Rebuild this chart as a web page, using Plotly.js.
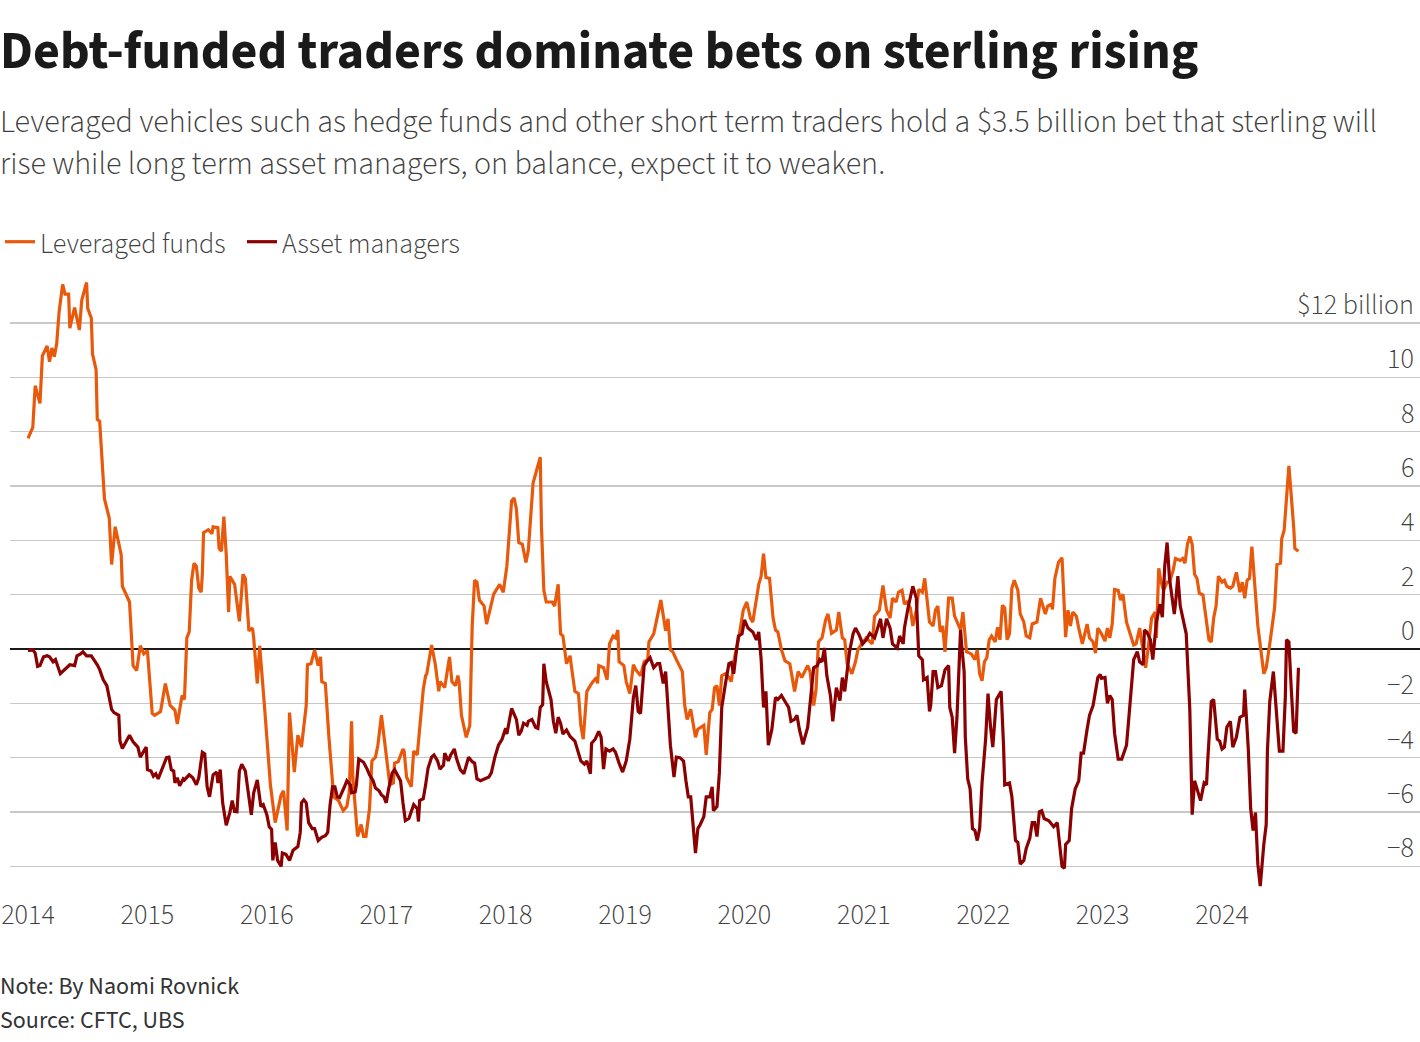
<!DOCTYPE html>
<html>
<head>
<meta charset="utf-8">
<script src="https://cdn.plot.ly/plotly-3.0.1.min.js"></script>
<style>
html,body{margin:0;padding:0;background:#fff;}
#chart{width:1420px;height:1042px;}
</style>
</head>
<body>
<div id="chart"></div>
<script>
// Leveraged funds: decimal year, $ billion
const levX = [2014.00,2014.04,2014.06,2014.10,2014.12,2014.16,2014.18,2014.20,2014.22,2014.24,2014.26,2014.29,2014.31,2014.34,2014.35,2014.39,2014.43,2014.45,2014.49,2014.50,2014.53,2014.54,2014.57,2014.58,2014.60,2014.64,2014.68,2014.70,2014.73,2014.78,2014.79,2014.85,2014.88,2014.91,2014.94,2014.97,2015.00,2015.04,2015.06,2015.11,2015.15,2015.19,2015.23,2015.25,2015.29,2015.31,2015.33,2015.35,2015.37,2015.39,2015.41,2015.43,2015.45,2015.46,2015.47,2015.51,2015.54,2015.55,2015.59,2015.60,2015.62,2015.64,2015.66,2015.68,2015.69,2015.73,2015.77,2015.80,2015.82,2015.85,2015.88,2015.89,2015.92,2015.94,2015.98,2016.03,2016.07,2016.12,2016.14,2016.17,2016.19,2016.23,2016.26,2016.29,2016.33,2016.34,2016.37,2016.40,2016.43,2016.45,2016.46,2016.49,2016.52,2016.56,2016.60,2016.64,2016.67,2016.69,2016.71,2016.72,2016.76,2016.79,2016.81,2016.83,2016.86,2016.88,2016.91,2016.93,2016.96,2017.00,2017.03,2017.06,2017.07,2017.10,2017.14,2017.15,2017.17,2017.21,2017.23,2017.26,2017.28,2017.31,2017.33,2017.34,2017.38,2017.41,2017.44,2017.45,2017.49,2017.53,2017.55,2017.58,2017.60,2017.61,2017.63,2017.67,2017.70,2017.72,2017.74,2017.76,2017.78,2017.82,2017.84,2017.87,2017.90,2017.95,2017.98,2018.01,2018.05,2018.07,2018.09,2018.11,2018.14,2018.17,2018.19,2018.23,2018.26,2018.29,2018.30,2018.32,2018.34,2018.39,2018.41,2018.44,2018.46,2018.48,2018.51,2018.54,2018.55,2018.58,2018.61,2018.63,2018.65,2018.68,2018.72,2018.76,2018.77,2018.78,2018.82,2018.85,2018.87,2018.90,2018.92,2018.94,2018.95,2018.99,2019.01,2019.04,2019.07,2019.09,2019.13,2019.16,2019.19,2019.20,2019.24,2019.27,2019.30,2019.34,2019.36,2019.38,2019.40,2019.43,2019.48,2019.50,2019.52,2019.55,2019.59,2019.61,2019.66,2019.68,2019.71,2019.73,2019.75,2019.77,2019.79,2019.81,2019.84,2019.87,2019.89,2019.92,2019.95,2019.99,2020.02,2020.05,2020.07,2020.12,2020.14,2020.16,2020.18,2020.21,2020.24,2020.26,2020.28,2020.31,2020.34,2020.38,2020.42,2020.45,2020.48,2020.53,2020.55,2020.58,2020.60,2020.62,2020.65,2020.68,2020.70,2020.73,2020.77,2020.79,2020.82,2020.84,2020.86,2020.90,2020.93,2020.95,2020.98,2021.02,2021.07,2021.09,2021.13,2021.16,2021.19,2021.22,2021.24,2021.27,2021.29,2021.32,2021.34,2021.36,2021.39,2021.41,2021.44,2021.46,2021.49,2021.51,2021.53,2021.55,2021.58,2021.60,2021.62,2021.64,2021.66,2021.68,2021.71,2021.74,2021.76,2021.78,2021.81,2021.83,2021.86,2021.90,2021.93,2021.95,2021.97,2021.99,2022.01,2022.03,2022.05,2022.07,2022.10,2022.12,2022.14,2022.16,2022.18,2022.20,2022.22,2022.24,2022.26,2022.29,2022.31,2022.34,2022.36,2022.39,2022.41,2022.45,2022.48,2022.52,2022.54,2022.57,2022.58,2022.60,2022.63,2022.66,2022.68,2022.69,2022.71,2022.73,2022.75,2022.78,2022.80,2022.83,2022.87,2022.89,2022.92,2022.94,2022.96,2022.99,2023.02,2023.04,2023.06,2023.08,2023.10,2023.13,2023.15,2023.17,2023.20,2023.23,2023.26,2023.28,2023.31,2023.34,2023.36,2023.38,2023.41,2023.44,2023.45,2023.47,2023.49,2023.51,2023.54,2023.56,2023.59,2023.61,2023.65,2023.67,2023.69,2023.71,2023.73,2023.75,2023.77,2023.79,2023.81,2023.84,2023.87,2023.89,2023.91,2023.93,2023.95,2023.97,2024.00,2024.02,2024.04,2024.07,2024.09,2024.12,2024.15,2024.17,2024.19,2024.21,2024.23,2024.25,2024.28,2024.30,2024.35,2024.37,2024.40,2024.44,2024.46,2024.49,2024.50,2024.52,2024.56,2024.58,2024.60,2024.61,2024.64];
const levY = [7.75,8.16,9.69,9.04,10.79,11.15,10.57,11.08,10.76,11.23,12.4,13.42,13.06,13.06,11.81,12.57,11.74,12.84,13.49,12.54,12.18,10.86,10.28,8.45,8.38,5.53,4.82,3.11,4.5,3.48,2.31,1.73,-0.61,-0.79,0.12,-0.18,-0.06,-2.37,-2.44,-2.3,-1.27,-2.08,-2.25,-2.76,-1.71,-1.86,0.41,0.63,2.53,3.16,3.04,2.24,2.09,2.75,4.28,4.39,4.24,4.5,4.47,3.7,3.6,4.87,3.48,1.36,2.68,2.38,1.02,2.75,2.6,0.67,0.77,0.41,-1.27,0.12,-2.08,-5.0,-6.39,-5.37,-5.22,-6.68,-2.34,-4.53,-3.17,-3.61,-2.08,-0.58,-0.54,-0.03,-0.61,-0.29,-1.2,-1.27,-3.25,-5.44,-5.58,-5.95,-5.8,-5.29,-2.66,-4.71,-6.9,-6.46,-6.9,-6.9,-5.88,-4.12,-3.98,-3.54,-2.44,-3.83,-5.0,-4.93,-4.2,-4.15,-3.68,-3.76,-4.71,-5.07,-3.76,-3.9,-2.81,-1.49,-0.98,-0.91,0.15,-0.54,-1.56,-1.2,-1.42,-0.29,-1.2,-1.35,-0.98,-1.2,-2.44,-3.25,-2.81,0.85,2.53,2.46,1.8,1.58,0.92,1.51,2.02,2.38,2.09,3.04,5.45,5.56,5.16,3.92,3.85,3.19,3.63,6.11,6.62,7.06,4.5,2.16,1.73,1.73,1.58,2.38,0.56,0.48,-0.54,-0.25,-0.61,-1.56,-1.64,-2.81,-3.32,-1.56,-1.27,-1.05,-1.27,-0.61,-0.69,-1.13,0.19,0.48,0.41,0.7,-0.47,-0.61,-1.2,-1.64,-0.58,-0.76,-0.98,-0.47,-0.39,0.26,0.56,1.14,1.8,0.67,1.11,-0.03,-0.1,-0.39,-0.83,-2.08,-2.59,-2.22,-3.25,-2.95,-2.81,-3.9,-2.34,-2.22,-1.42,-1.35,-2.08,-0.98,-0.91,-1.05,-1.2,-0.25,0.34,1.43,1.73,1.14,0.99,2.38,2.68,3.51,2.63,2.6,1.14,0.7,0.63,-0.03,-0.44,-0.54,-1.56,-0.83,-1.05,-0.61,-0.83,-2.08,-1.49,0.26,0.41,1.07,1.29,0.58,0.7,1.36,0.41,0.34,-0.54,-0.91,-0.47,-0.03,0.19,0.41,0.19,1.21,1.43,2.34,1.43,1.14,1.87,1.73,2.09,2.16,1.65,1.73,1.51,0.85,1.43,2.19,2.09,2.6,1.73,0.99,0.85,1.43,1.58,0.63,0.85,-0.1,1.87,1.87,1.21,0.99,0.7,1.36,-0.1,-0.18,-0.39,-0.03,-0.91,-1.17,-0.47,-0.32,0.34,0.48,0.26,0.8,0.34,1.61,1.51,0.34,0.56,2.24,2.53,2.16,1.29,0.99,0.48,0.41,0.92,0.99,1.87,1.29,1.58,1.65,1.46,2.6,3.19,3.36,1.43,0.44,1.43,0.85,1.36,1.21,0.77,0.19,0.92,0.41,0.26,-0.15,0.77,0.56,0.29,0.77,0.41,0.92,2.19,2.16,1.8,2.02,0.99,0.56,0.15,0.19,0.77,-0.1,-0.69,-0.03,1.14,1.36,0.41,2.97,2.46,2.16,2.46,2.46,2.89,3.33,3.26,3.33,3.16,3.85,4.14,3.85,2.75,2.6,2.05,1.99,1.07,0.34,0.26,1.14,1.58,2.68,2.46,2.53,2.31,2.24,2.31,2.82,2.09,2.46,1.87,2.53,2.6,3.77,2.02,0.85,-0.91,-0.69,0.19,1.51,3.11,3.16,4.06,4.36,6.74,5.67,4.5,3.7,3.6];

// Asset managers: decimal year, $ billion
const amX = [2014.00,2014.04,2014.06,2014.08,2014.10,2014.13,2014.16,2014.18,2014.21,2014.23,2014.27,2014.31,2014.35,2014.39,2014.41,2014.44,2014.46,2014.49,2014.53,2014.58,2014.60,2014.63,2014.66,2014.70,2014.72,2014.76,2014.77,2014.79,2014.82,2014.85,2014.88,2014.92,2014.94,2014.97,2014.99,2015.00,2015.03,2015.05,2015.07,2015.09,2015.13,2015.16,2015.18,2015.20,2015.22,2015.23,2015.25,2015.27,2015.30,2015.31,2015.35,2015.38,2015.41,2015.43,2015.46,2015.48,2015.50,2015.52,2015.55,2015.58,2015.59,2015.61,2015.63,2015.66,2015.69,2015.71,2015.73,2015.75,2015.77,2015.79,2015.82,2015.83,2015.87,2015.89,2015.92,2015.95,2015.97,2016.00,2016.02,2016.04,2016.05,2016.07,2016.09,2016.12,2016.13,2016.16,2016.19,2016.22,2016.26,2016.28,2016.29,2016.31,2016.33,2016.35,2016.38,2016.40,2016.43,2016.46,2016.49,2016.51,2016.53,2016.55,2016.57,2016.59,2016.61,2016.65,2016.67,2016.70,2016.71,2016.74,2016.75,2016.77,2016.81,2016.84,2016.86,2016.89,2016.91,2016.94,2016.96,2016.98,2017.00,2017.02,2017.05,2017.07,2017.09,2017.12,2017.14,2017.16,2017.19,2017.23,2017.26,2017.27,2017.28,2017.31,2017.33,2017.35,2017.38,2017.40,2017.43,2017.45,2017.48,2017.49,2017.52,2017.54,2017.57,2017.59,2017.62,2017.65,2017.69,2017.72,2017.74,2017.76,2017.79,2017.83,2017.86,2017.88,2017.91,2017.94,2017.97,2018.00,2018.01,2018.05,2018.09,2018.11,2018.13,2018.15,2018.18,2018.19,2018.22,2018.25,2018.27,2018.29,2018.31,2018.32,2018.34,2018.38,2018.40,2018.42,2018.44,2018.46,2018.48,2018.51,2018.54,2018.58,2018.61,2018.63,2018.66,2018.68,2018.71,2018.72,2018.75,2018.78,2018.80,2018.82,2018.84,2018.87,2018.90,2018.92,2018.95,2018.98,2019.01,2019.04,2019.07,2019.09,2019.11,2019.13,2019.16,2019.18,2019.21,2019.24,2019.27,2019.29,2019.32,2019.34,2019.35,2019.38,2019.41,2019.43,2019.46,2019.49,2019.51,2019.53,2019.55,2019.57,2019.59,2019.61,2019.63,2019.66,2019.68,2019.71,2019.73,2019.74,2019.77,2019.79,2019.81,2019.84,2019.87,2019.89,2019.91,2019.94,2019.95,2019.98,2020.00,2020.03,2020.07,2020.10,2020.12,2020.14,2020.16,2020.18,2020.20,2020.23,2020.26,2020.28,2020.31,2020.34,2020.37,2020.39,2020.42,2020.44,2020.46,2020.49,2020.53,2020.56,2020.58,2020.61,2020.63,2020.65,2020.67,2020.69,2020.72,2020.74,2020.77,2020.80,2020.82,2020.84,2020.86,2020.88,2020.91,2020.93,2020.96,2020.99,2021.02,2021.05,2021.09,2021.11,2021.14,2021.16,2021.19,2021.22,2021.24,2021.28,2021.30,2021.33,2021.34,2021.37,2021.41,2021.44,2021.46,2021.49,2021.50,2021.53,2021.55,2021.56,2021.58,2021.60,2021.62,2021.65,2021.68,2021.71,2021.72,2021.74,2021.76,2021.78,2021.81,2021.82,2021.84,2021.85,2021.87,2021.89,2021.91,2021.93,2021.95,2021.97,2021.99,2022.02,2022.04,2022.06,2022.08,2022.11,2022.15,2022.17,2022.18,2022.22,2022.24,2022.27,2022.29,2022.31,2022.34,2022.36,2022.39,2022.41,2022.43,2022.45,2022.47,2022.49,2022.51,2022.55,2022.59,2022.62,2022.64,2022.66,2022.68,2022.69,2022.72,2022.74,2022.77,2022.80,2022.82,2022.84,2022.87,2022.89,2022.92,2022.96,2022.98,2022.99,2023.02,2023.04,2023.06,2023.08,2023.10,2023.13,2023.16,2023.20,2023.22,2023.24,2023.26,2023.29,2023.31,2023.34,2023.35,2023.37,2023.40,2023.42,2023.45,2023.48,2023.50,2023.52,2023.54,2023.56,2023.60,2023.61,2023.63,2023.65,2023.68,2023.70,2023.73,2023.75,2023.77,2023.80,2023.82,2023.85,2023.87,2023.88,2023.91,2023.93,2023.96,2023.98,2024.00,2024.02,2024.04,2024.07,2024.09,2024.12,2024.15,2024.18,2024.19,2024.22,2024.24,2024.26,2024.28,2024.30,2024.32,2024.35,2024.37,2024.38,2024.40,2024.43,2024.45,2024.48,2024.51,2024.53,2024.54,2024.56,2024.58,2024.60,2024.62,2024.64];
const amY = [-0.06,-0.03,-0.15,-0.64,-0.61,-0.29,-0.25,-0.29,-0.47,-0.39,-0.91,-0.73,-0.58,-0.61,-0.25,-0.18,-0.1,-0.25,-0.25,-0.58,-0.76,-1.13,-1.35,-2.22,-2.34,-2.44,-3.39,-3.66,-3.39,-3.17,-3.42,-3.61,-3.98,-3.76,-3.61,-4.44,-4.49,-4.68,-4.59,-4.78,-4.34,-4.0,-3.98,-4.44,-4.49,-4.93,-4.74,-5.03,-4.78,-4.82,-4.63,-4.74,-5.0,-4.74,-3.8,-3.86,-5.07,-5.44,-4.63,-4.53,-4.93,-4.44,-5.66,-6.49,-6.02,-5.58,-5.98,-5.99,-4.49,-4.24,-4.49,-4.85,-6.1,-5.29,-4.82,-5.8,-5.73,-6.1,-6.54,-6.64,-7.78,-7.12,-7.78,-8.0,-7.51,-7.56,-7.78,-7.41,-7.27,-6.75,-5.66,-5.55,-5.66,-6.39,-6.61,-6.61,-7.05,-6.93,-6.87,-6.75,-5.73,-5.07,-5.07,-5.44,-5.47,-5.07,-4.85,-5.0,-5.29,-5.26,-5.0,-4.05,-4.17,-4.42,-4.63,-4.85,-5.12,-5.22,-5.37,-5.44,-5.66,-5.15,-4.56,-4.44,-4.63,-4.85,-5.66,-6.32,-6.24,-5.73,-5.88,-6.35,-5.58,-5.51,-5.0,-4.39,-3.98,-3.9,-4.12,-4.42,-4.27,-3.83,-4.12,-3.9,-3.68,-4.05,-4.44,-4.59,-3.98,-4.15,-4.2,-4.78,-4.85,-4.78,-4.71,-4.56,-3.98,-3.54,-3.32,-2.92,-3.13,-2.19,-2.59,-3.17,-3.03,-2.73,-2.81,-2.66,-2.59,-2.88,-2.92,-2.15,-2.05,-0.54,-1.2,-1.86,-2.66,-3.1,-2.51,-2.73,-3.13,-2.98,-3.22,-3.39,-3.8,-4.12,-4.24,-4.12,-4.59,-3.47,-3.32,-3.03,-3.25,-4.42,-3.68,-3.76,-3.68,-3.8,-4.2,-4.53,-4.12,-3.32,-1.78,-1.35,-2.3,-2.37,-0.61,-0.47,-0.32,-0.69,-0.54,-0.54,-1.27,-0.83,-1.49,-3.54,-4.71,-3.98,-4.0,-4.12,-4.85,-5.44,-5.44,-6.46,-7.51,-6.61,-6.46,-6.17,-5.44,-5.44,-5.07,-5.95,-5.8,-4.56,-2.15,-1.3,-0.54,-0.5,-0.91,0.19,0.48,0.56,1.07,0.77,0.63,0.34,0.63,-0.39,-2.15,-1.56,-3.54,-2.95,-1.78,-1.86,-1.71,-1.93,-2.15,-2.66,-2.59,-2.44,-2.95,-3.51,-2.88,-1.56,-0.69,-0.61,-0.39,-0.47,0.04,-0.98,-1.71,-2.66,-1.42,-1.9,-1.05,-1.56,-0.76,-0.1,0.56,0.77,0.53,0.19,0.34,0.58,0.41,0.7,1.11,0.41,1.11,0.77,0.19,0.04,0.48,0.19,0.77,1.51,2.31,1.87,-0.25,-0.39,-1.13,-1.05,-2.3,-2.08,-0.83,-0.83,-1.42,-1.35,-0.76,-0.61,-2.15,-2.51,-3.83,-2.51,0.7,0.12,-0.83,-3.25,-4.78,-5.15,-6.61,-6.68,-7.05,-6.61,-4.93,-3.32,-1.64,-2.81,-3.61,-1.86,-1.56,-3.54,-5.0,-4.93,-5.44,-7.05,-7.12,-7.92,-7.78,-7.34,-6.97,-6.39,-6.39,-6.9,-5.99,-5.95,-6.24,-6.32,-6.54,-6.39,-7.34,-8.0,-8.07,-7.19,-7.05,-5.88,-5.15,-4.85,-3.83,-3.83,-2.95,-2.44,-2.08,-1.05,-0.94,-1.08,-1.05,-2.0,-1.71,-1.86,-3.1,-4.05,-4.05,-3.54,-2.51,-1.49,-0.39,-0.1,-0.47,-0.58,0.7,0.63,0.34,-0.39,0.99,1.65,1.17,3.04,3.92,2.6,1.29,1.65,2.68,1.58,0.92,0.56,-2.22,-6.1,-4.85,-5.29,-5.58,-4.93,-5.0,-4.12,-1.93,-1.86,-3.32,-3.39,-3.68,-3.61,-2.88,-2.66,-3.61,-3.25,-2.51,-2.44,-1.49,-3.68,-5.88,-6.68,-6.02,-7.92,-8.73,-7.19,-6.46,-3.76,-1.93,-0.83,-2.08,-3.76,-3.76,-1.78,0.34,0.26,-1.49,-3.03,-3.1,-0.69];

const yearTicks = [2014,2015,2016,2017,2018,2019,2020,2021,2022,2023,2024];
const yearLabels = ["2014","2015","2016","2017","2018","2019","2020","2021","2022","2023","2024"];
const yTickVals = [-8,-6,-4,-2,0,2,4,6,8,10,12];
const yTickLabels = ["−8","−6","−4","−2","0","2","4","6","8","10","$12 billion"];

const FONT = "'Source Sans Pro','Source Sans 3',Lato,'Noto Sans',sans-serif";
const ORANGE = "#e8590c";
const DARKRED = "#8b0000";

const traces = [
  {x: levX, y: levY, type: 'scatter', mode: 'lines', name: 'Leveraged funds',
   line: {color: ORANGE, width: 3.2}, hoverinfo: 'skip'},
  {x: amX, y: amY, type: 'scatter', mode: 'lines', name: 'Asset managers',
   line: {color: DARKRED, width: 3.2}, hoverinfo: 'skip'}
];

const annotations = yTickVals.map((v, i) => ({
  xref: 'paper', yref: 'y', x: 1, y: v, xanchor: 'right', yanchor: 'bottom',
  xshift: -4, yshift: -4, showarrow: false, text: yTickLabels[i],
  font: {family: FONT, size: 28, color: '#404040', weight: 300}
}));

annotations.push(
  {xref: 'paper', yref: 'paper', x: 0, y: 1, xanchor: 'left', yanchor: 'middle',
   xshift: -12, yshift: 270 - 143, showarrow: false, align: 'left',
   text: 'Leveraged vehicles such as hedge funds and other short term traders hold a $3.5 billion bet that sterling will<br>rise while long term asset managers, on balance, expect it to weaken.',
   font: {family: FONT, size: 32, color: '#404040', weight: 300}},
  {xref: 'paper', yref: 'paper', x: 0, y: 0, xanchor: 'left', yanchor: 'middle',
   xshift: -12, yshift: -(986 - 890), showarrow: false, align: 'left',
   text: 'Note: By Naomi Rovnick',
   font: {family: FONT, size: 24, color: '#333333'}},
  {xref: 'paper', yref: 'paper', x: 0, y: 0, xanchor: 'left', yanchor: 'middle',
   xshift: -12, yshift: -(1020 - 890), showarrow: false, align: 'left',
   text: 'Source: CFTC, UBS',
   font: {family: FONT, size: 24, color: '#333333'}}
);

const layout = {
  width: 1420, height: 1042,
  margin: {l: 10, r: 0, t: 270, b: 152, pad: 0},
  paper_bgcolor: '#ffffff', plot_bgcolor: '#ffffff',
  font: {family: FONT, color: '#404040'},
  title: {text: '<b>Debt-funded traders dominate bets on sterling rising</b>',
          x: 0, xref: 'container', xanchor: 'left', y: 1 - 50/1042, yref: 'container', yanchor: 'middle',
          font: {family: FONT, size: 52, color: '#1a1a1a'}, pad: {l: 0}},
  showlegend: true,
  legend: {orientation: 'h', x: -0.009, xref: 'container', xanchor: 'left', y: 1 - 242/1042, yref: 'container', yanchor: 'middle',
           font: {family: FONT, size: 28, color: '#404040', weight: 300}, itemwidth: 30, tracegroupgap: 0,
           entrywidth: 197, entrywidthmode: 'pixels', bgcolor: 'rgba(0,0,0,0)'},
  xaxis: {range: [2013.849, 2025.658], tickvals: yearTicks, ticktext: yearLabels,
          showgrid: false, zeroline: false, showline: false, ticks: '',
          tickfont: {family: FONT, size: 28, color: '#404040', weight: 300}, ticklabelstandoff: 5, fixedrange: true},
  yaxis: {range: [-8.87, 13.95], tickvals: yTickVals, showticklabels: false,
          showgrid: true, gridcolor: '#c8c8c8', gridwidth: 1.5,
          zeroline: true, zerolinecolor: '#1a1a1a', zerolinewidth: 1.5, showline: false, ticks: '', fixedrange: true},
  annotations: annotations
};

Plotly.newPlot('chart', traces, layout, {displayModeBar: false, staticPlot: true});
</script>
</body>
</html>
